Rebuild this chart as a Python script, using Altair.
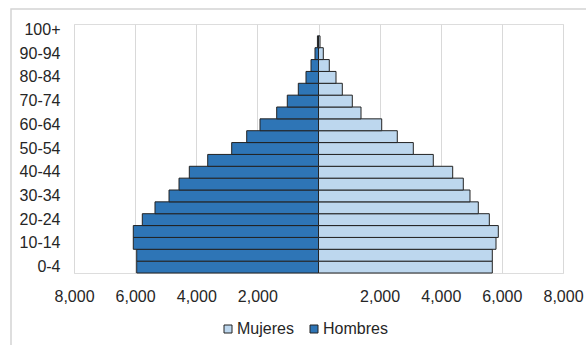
import altair as alt
import pandas as pd

ages = ["0-4", "5-9", "10-14", "15-19", "20-24", "25-29", "30-34", "35-39",
        "40-44", "45-49", "50-54", "55-59", "60-64", "65-69", "70-74", "75-79",
        "80-84", "85-89", "90-94", "95-99", "100+"]
hombres = [5948, 5948, 6060, 6060, 5765, 5350, 4891, 4564, 4227, 3625, 2840,
           2349, 1914, 1368, 1021, 661, 409, 245, 115, 35, 0]
mujeres = [5687, 5687, 5808, 5883, 5589, 5229, 4957, 4738, 4391, 3756, 3102,
           2578, 2068, 1391, 1106, 779, 573, 353, 157, 50, 0]
x_ticks = [-8000, -6000, -4000, -2000, 0, 2000, 4000, 6000, 8000]
y_labels = ["0-4", "10-14", "20-24", "30-34", "40-44", "50-54", "60-64",
            "70-74", "80-84", "90-94", "100+"]

rows = []
for a, h, m in zip(ages, hombres, mujeres):
    rows.append({"edad": a, "sexo": "Hombres", "valor": -h})
    rows.append({"edad": a, "sexo": "Mujeres", "valor": m})
df = pd.DataFrame(rows)

W, H = 489, 249
FONT = "Liberation Sans"
TXT = "#262626"
FS = 16

bars = alt.Chart(df).mark_bar(stroke="#222222", strokeWidth=1).encode(
    x=alt.X("valor:Q",
            scale=alt.Scale(domain=[-8000, 8000], nice=False),
            axis=alt.Axis(values=x_ticks, title=None, grid=True, domain=False,
                          ticks=False, labelPadding=15, labelFlush=False,
                          labelOverlap=False,
                          labelFont=FONT, labelFontSize=FS, labelColor=TXT,
                          gridColor="#d9d9d9", gridWidth=1,
                          labelExpr="datum.value == 0 ? '' : format(abs(datum.value), ',')")),
    y=alt.Y("edad:N", sort=ages[::-1],
            scale=alt.Scale(domain=ages[::-1], paddingInner=0, paddingOuter=0),
            axis=alt.Axis(values=y_labels, title=None, domain=False, ticks=False,
                          grid=False, labelPadding=14,
                          labelFont=FONT, labelFontSize=FS, labelColor=TXT)),
    color=alt.Color("sexo:N",
                    scale=alt.Scale(domain=["Mujeres", "Hombres"],
                                    range=["#BDD7EE", "#2E75B6"]),
                    legend=alt.Legend(title=None, orient="none", direction="horizontal",
                                      legendX=146, legendY=297,
                                      symbolType="square", symbolSize=64,
                                      symbolStrokeColor="#222222", symbolStrokeWidth=1,
                                      labelFontSize=FS, labelFont=FONT, labelColor=TXT,
                                      columnPadding=12, labelOffset=1)),
).transform_filter("datum.valor != 0")

border = alt.Chart(alt.Data(values=[{"b": 1}])).mark_rect(
    fill=None, stroke="#d4d4d4", strokeWidth=1.5
).encode(
    x=alt.value(-63), x2=alt.value(W + 40),
    y=alt.value(-15), y2=alt.value(H + 100),
)

chart = alt.layer(border, bars).properties(
    width=W, height=H,
    autosize=alt.AutoSizeParams(type="none"),
    padding={"left": 74, "top": 24, "right": 23, "bottom": 72},
).configure_view(stroke=None).configure(background="white")

chart.save("out.html", embed_options={"renderer": "svg", "actions": False})
